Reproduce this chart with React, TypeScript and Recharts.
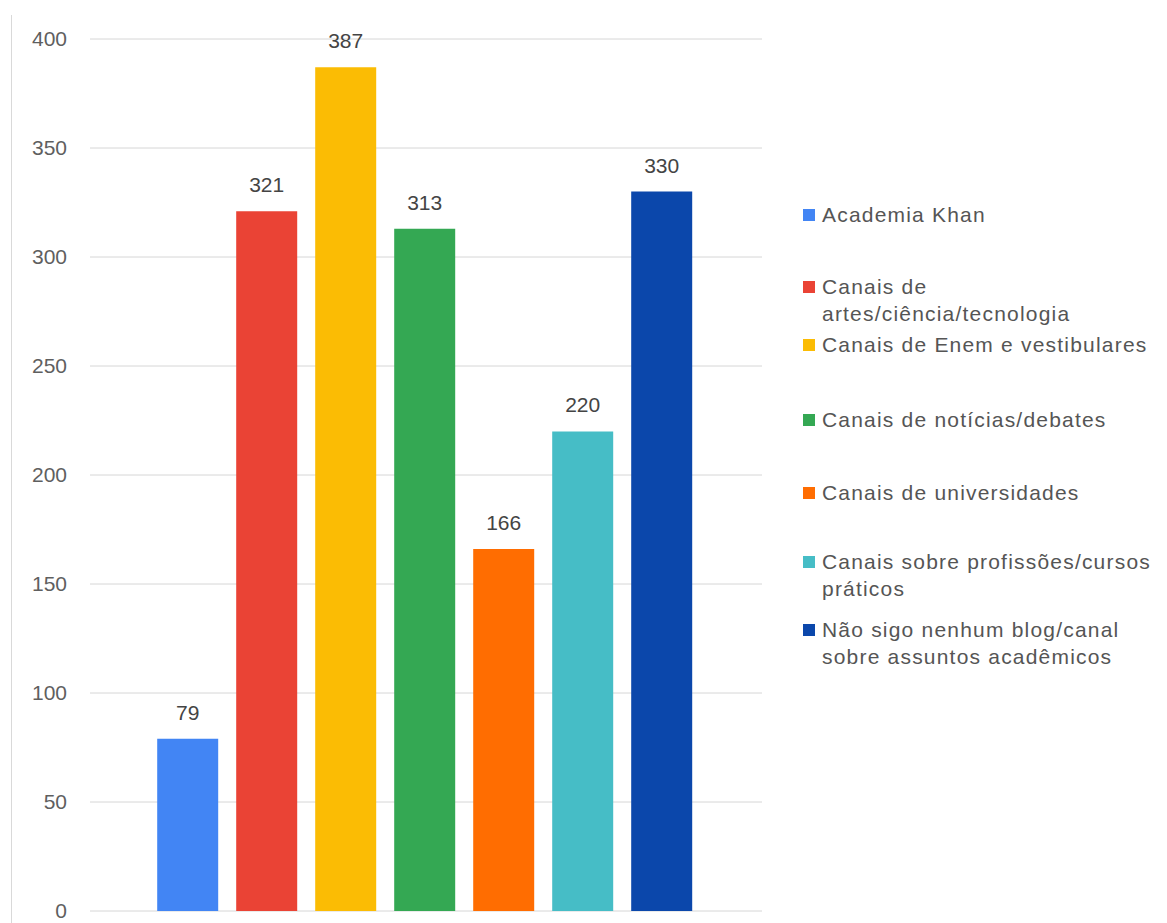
import React from "react";
import { BarChart, Bar, YAxis, XAxis, CartesianGrid, LabelList, Legend } from "recharts";

const SERIES = [
  "Academia Khan",
  "Canais de artes/ciência/tecnologia",
  "Canais de Enem e vestibulares",
  "Canais de notícias/debates",
  "Canais de universidades",
  "Canais sobre profissões/cursos práticos",
  "Não sigo nenhum blog/canal sobre assuntos acadêmicos",
];
// wrapped text as it appears in the legend
const LEGEND_LINES = [
  ["Academia Khan"],
  ["Canais de", "artes/ciência/tecnologia"],
  ["Canais de Enem e vestibulares"],
  ["Canais de notícias/debates"],
  ["Canais de universidades"],
  ["Canais sobre profissões/cursos", "práticos"],
  ["Não sigo nenhum blog/canal", "sobre assuntos acadêmicos"],
];
const VALUES = [79, 321, 387, 313, 166, 220, 330];
const COLORS = ["#4285f4", "#ea4335", "#fbbc04", "#34a853", "#ff6d01", "#46bdc6", "#0b47ab"];
const Y_TICKS = [0, 50, 100, 150, 200, 250, 300, 350, 400];

const FONT = '"Liberation Sans", Arial, sans-serif';
const LEGEND_TOPS = [201, 273, 331, 406, 479, 548, 616];

const row: Record<string, number | string> = { name: "" };
SERIES.forEach((s, i) => {
  row[`s${i}`] = VALUES[i];
});
const data = [row];

function LegendBox() {
  return (
    <div style={{ position: "relative", width: 360, height: 500, fontFamily: FONT }}>
      {LEGEND_LINES.map((lines, i) => (
        <div
          key={i}
          style={{
            position: "absolute",
            left: 0,
            top: LEGEND_TOPS[i] - 190,
            display: "flex",
            alignItems: "flex-start",
            fontSize: 21,
            lineHeight: "27px",
            color: "#555",
            letterSpacing: 1.2,
            whiteSpace: "nowrap",
          }}
        >
          <span
            style={{
              display: "inline-block",
              width: 12,
              height: 12,
              marginTop: 8,
              marginRight: 7,
              background: COLORS[i],
            }}
          />
          <span>
            {lines.map((l, j) => (
              <div key={j}>{l}</div>
            ))}
          </span>
        </div>
      ))}
    </div>
  );
}

export default function App() {
  return (
    <div
      style={{
        position: "absolute",
        left: 0,
        top: 0,
        width: 1167,
        height: 923,
        background: "#fff",
        fontFamily: FONT,
      }}
    >
      <div
        style={{
          position: "absolute",
          left: 11,
          top: 15,
          bottom: 0,
          borderLeft: "1px solid #d9d9d9",
        }}
      />
      <BarChart
        width={1167}
        height={923}
        data={data}
        margin={{ top: 39, right: 405, bottom: 12, left: 20 }}
        barCategoryGap="10%"
        barGap={18}
      >
        <CartesianGrid vertical={false} stroke="#d6d6d6" />
        <XAxis dataKey="name" hide />
        <YAxis
          width={70}
          domain={[0, 400]}
          ticks={Y_TICKS}
          interval={0}
          axisLine={false}
          tickLine={false}
          tickSize={0}
          tickMargin={23}
          tick={{ fill: "#5f5f5f", fontSize: 21, fontFamily: FONT }}
        />
        <Legend
          layout="vertical"
          align="center"
          verticalAlign="middle"
          wrapperStyle={{ left: 803, top: 190, width: 360, height: 500 }}
          content={() => <LegendBox />}
        />
        {SERIES.map((s, i) => (
          <Bar key={s} dataKey={`s${i}`} name={s} fill={COLORS[i]} isAnimationActive={false}>
            <LabelList
              dataKey={`s${i}`}
              position="top"
              offset={19}
              fill="#444"
              fontSize={21}
              fontFamily={FONT}
            />
          </Bar>
        ))}
      </BarChart>
    </div>
  );
}
